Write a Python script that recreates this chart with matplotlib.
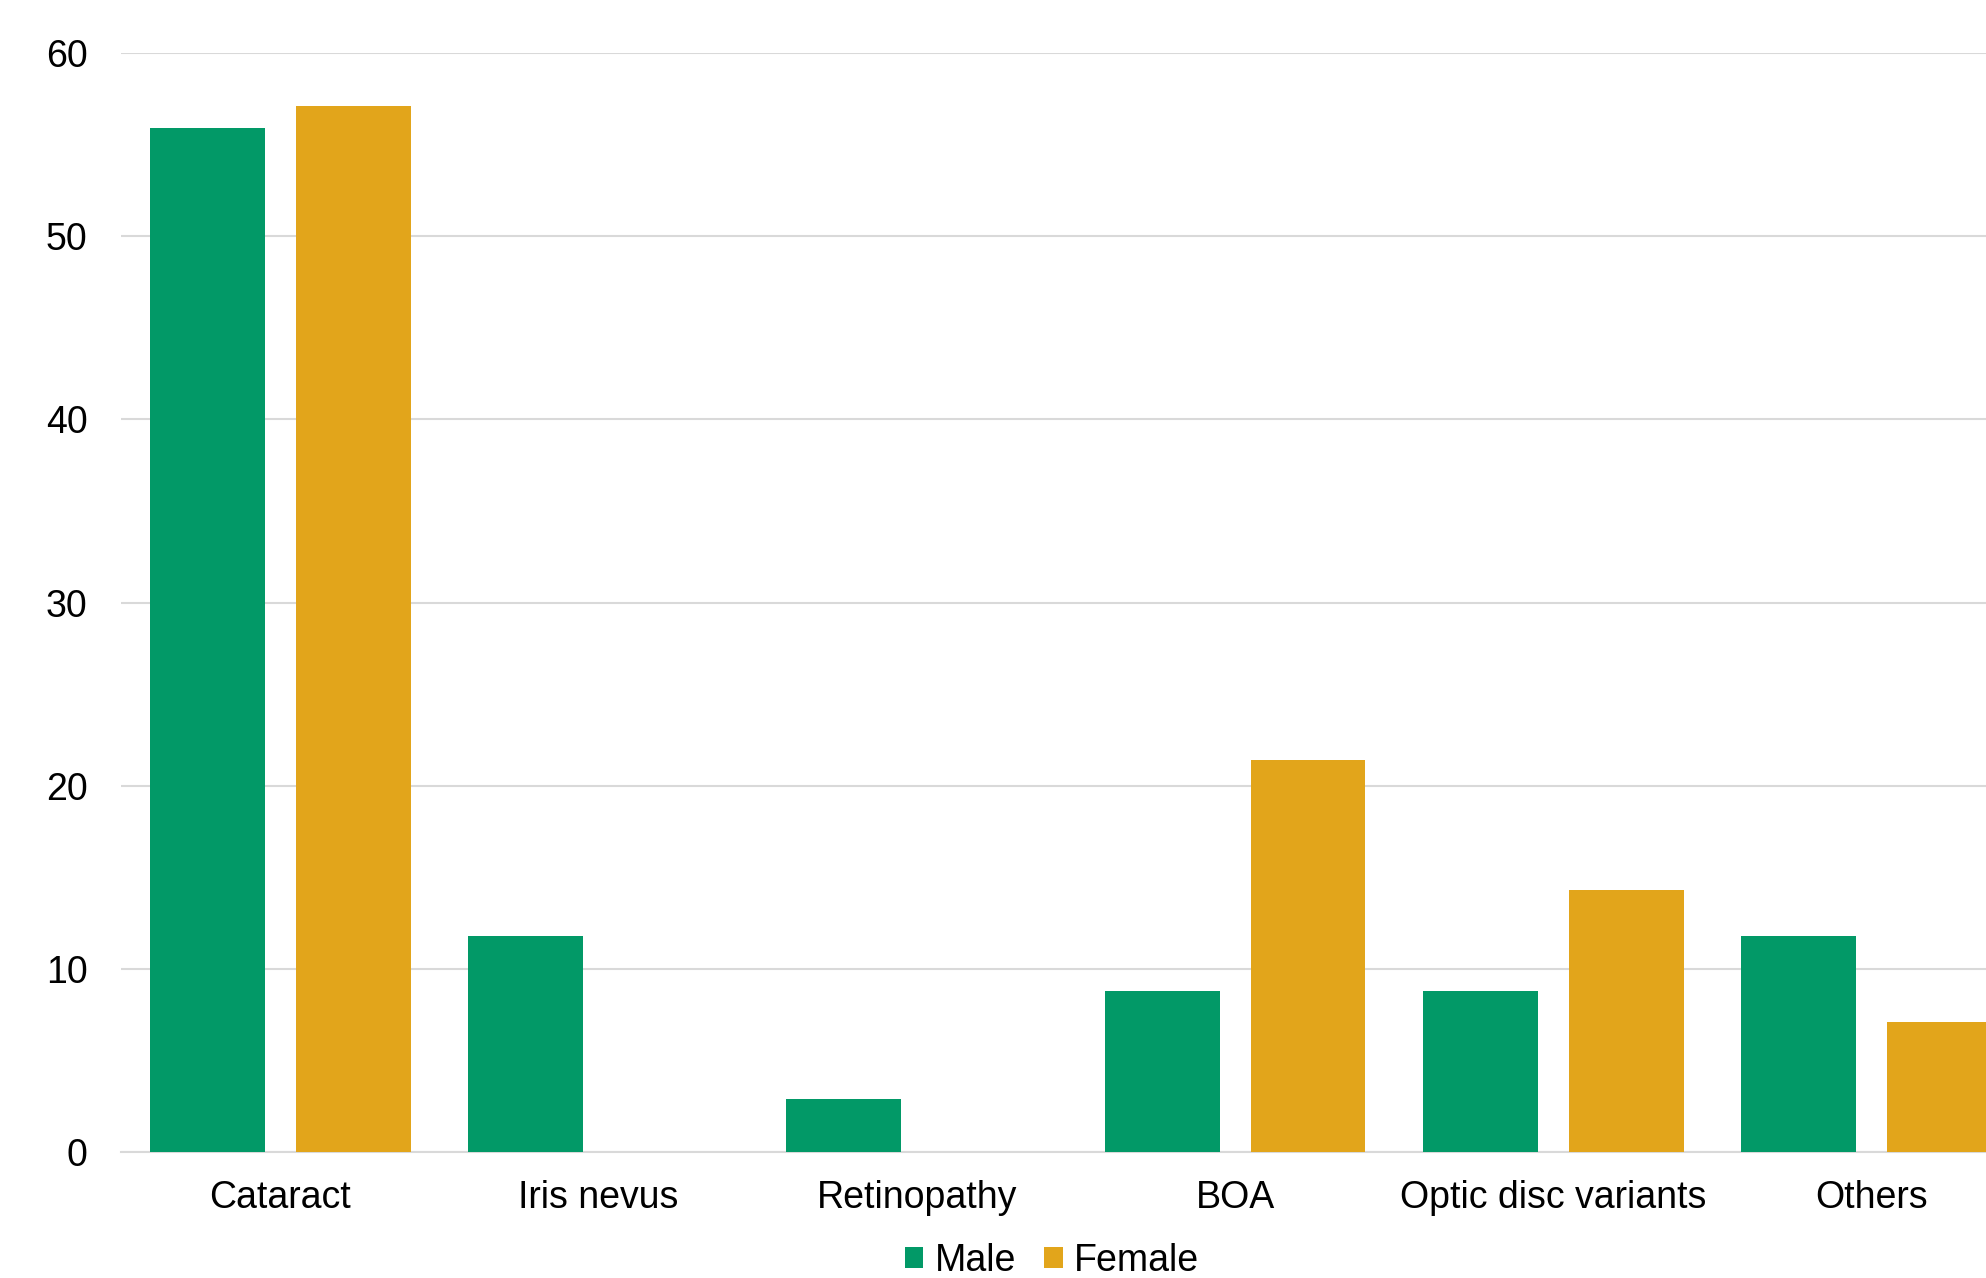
import matplotlib
matplotlib.use("Agg")
import matplotlib.pyplot as plt
import numpy as np

plt.rcParams["font.family"] = ["Liberation Sans", "DejaVu Sans"]

categories = ["Cataract", "Iris nevus", "Retinopathy", "BOA",
              "Optic disc variants", "Others"]
male = [55.9, 11.8, 2.9, 8.8, 8.8, 11.8]
female = [57.1, 0, 0, 21.4, 14.3, 7.1]
y_ticks = [0, 10, 20, 30, 40, 50, 60]

GREEN = "#029967"
GOLD = "#E2A51B"
GRID = "#D9D9D9"

fig = plt.figure(figsize=(19.86, 12.78), dpi=100)
ax = fig.add_axes([121 / 1986, 0.0988, 1 - 121 / 1986, 0.9583 - 0.0988])

x = np.arange(len(categories))
w = 0.361
off = 0.229
ax.bar(x - off, male, width=w, color=GREEN, label="Male", zorder=3)
ax.bar(x + off, female, width=w, color=GOLD, label="Female", zorder=3)

ax.set_xlim(-0.5, 5.359)
ax.set_ylim(0, 60)
ax.set_yticks(y_ticks)
ax.set_xticks(x)
ax.set_xticklabels(categories)
ax.tick_params(axis="both", length=0, labelsize=27, colors="black")
ax.tick_params(axis="y", pad=24)
ax.tick_params(axis="x", pad=20)
ax.grid(axis="y", color=GRID, linewidth=1.5, zorder=0)
for side in ["top", "right", "left"]:
    ax.spines[side].set_visible(False)
ax.spines["bottom"].set_color(GRID)
ax.spines["bottom"].set_linewidth(1.5)

fig.legend(loc="center", bbox_to_anchor=(1052 / 1986, 1 - 1261 / 1278),
           ncol=2, frameon=False, fontsize=27, handlelength=0.5,
           handleheight=0.5, handletextpad=0.3, columnspacing=0.75,
           borderpad=0, borderaxespad=0)

fig.savefig("out.png", dpi=100)
